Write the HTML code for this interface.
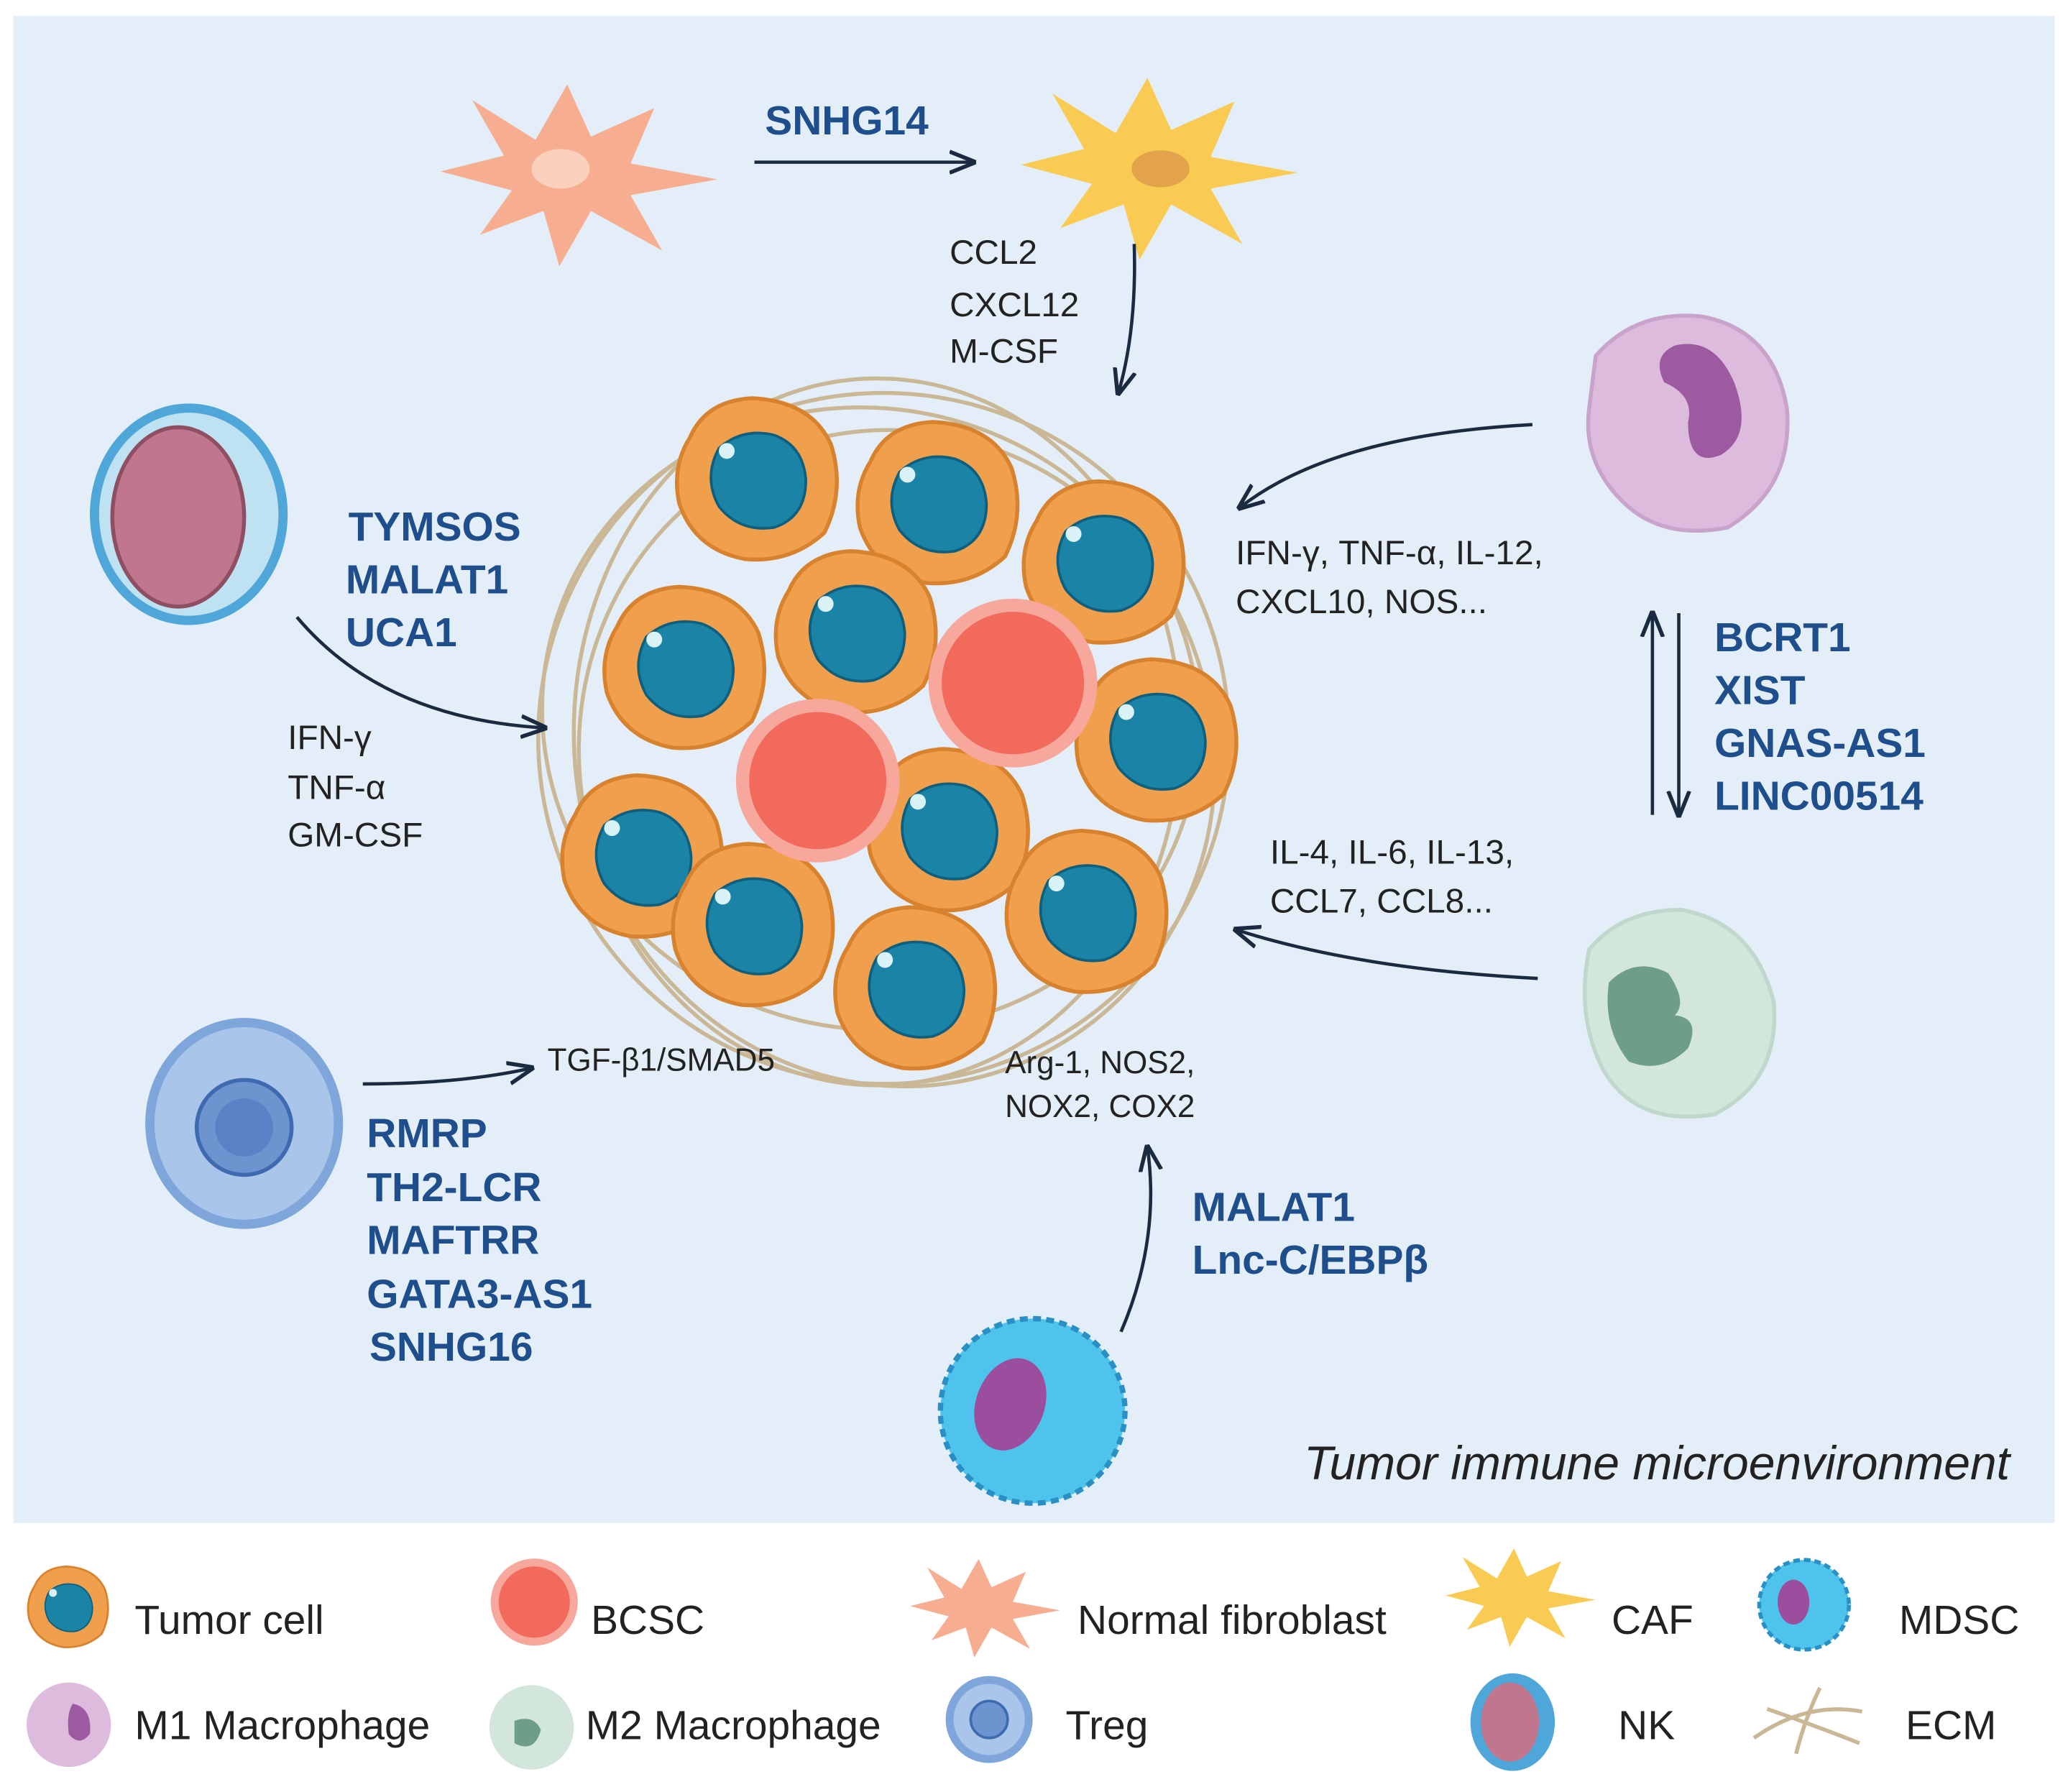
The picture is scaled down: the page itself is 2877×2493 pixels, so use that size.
<!DOCTYPE html>
<html><head><meta charset="utf-8"><style>
html,body{margin:0;padding:0;background:#fff}
svg{display:block}
text{font-family:"Liberation Sans",Arial,sans-serif}
.b{font-weight:bold;fill:#1F4E8C;font-size:31px}
.k{fill:#222;font-size:26px}
.l{fill:#222;font-size:31px}
</style></head><body>
<svg width="2877" height="2493" viewBox="0 0 1568 1359" xmlns="http://www.w3.org/2000/svg">
<defs>
<marker id="ar" viewBox="0 0 10 10" refX="9" refY="5" markerWidth="8" markerHeight="8" orient="auto-start-reverse"><path d="M0,1 L10,5 L0,9" fill="none" stroke="#1a2a40" stroke-width="1.5"/></marker>
<g id="tc"><path d="M-52,-30 Q-40,-58 -5,-60 Q40,-58 55,-25 Q66,10 50,42 Q25,65 -10,62 Q-48,55 -60,20 Q-66,-8 -52,-30Z" fill="#F0A04C" stroke="#D9822E" stroke-width="3"/><path d="M-30,-22 Q-12,-38 12,-32 Q34,-24 36,2 Q36,30 12,38 Q-14,42 -30,22 Q-42,0 -30,-22Z" fill="#1A83A6" stroke="#0E5F7E" stroke-width="2"/><circle cx="-24" cy="-20" r="6" fill="#D9F2F7"/></g>
<g id="fib"><path d="M-80,0 L-40,-10 L-60,-45 L-20,-20 L0,-55 L15,-22 L55,-40 L40,-5 L95,5 L40,15 L60,50 L15,25 L-5,60 L-15,25 L-55,40 L-35,12Z" /></g>
</defs>
<rect width="1568" height="1359" fill="#fff"/>
<rect x="10" y="12" width="1548" height="1143" fill="#E3EEF8"/>

<g fill="none" stroke="#C9B796" stroke-width="3">
<ellipse cx="670" cy="560" rx="262" ry="262"/>
<ellipse cx="660" cy="545" rx="250" ry="235" transform="rotate(15 660 545)"/>
<ellipse cx="680" cy="575" rx="240" ry="250" transform="rotate(-20 680 575)"/>
<ellipse cx="665" cy="555" rx="230" ry="268"/>
</g>
<use href="#tc" x="575" y="362"/>
<use href="#tc" x="712" y="380"/>
<use href="#tc" x="838" y="425"/>
<use href="#tc" x="520" y="505"/>
<use href="#tc" x="650" y="478"/>
<use href="#tc" x="878" y="560"/>
<use href="#tc" x="488" y="648"/>
<use href="#tc" x="572" y="700"/>
<use href="#tc" x="720" y="628"/>
<use href="#tc" x="695" y="748"/>
<use href="#tc" x="825" y="690"/>
<circle cx="620" cy="592" r="62" fill="#F7A79C"/><circle cx="620" cy="592" r="52" fill="#F26A5C"/>
<circle cx="768" cy="518" r="64" fill="#F7A79C"/><circle cx="768" cy="518" r="54" fill="#F26A5C"/>

<use href="#fib" x="430" y="130" fill="#F7AE90" transform="translate(430 130) scale(1.2) translate(-430 -130)"/>
<ellipse cx="425" cy="128" rx="22" ry="15" fill="#FBD0BC"/>
<use href="#fib" x="870" y="125" fill="#F9CB52" transform="translate(870 125) scale(1.2) translate(-870 -125)"/>
<ellipse cx="880" cy="128" rx="22" ry="14" fill="#E3A24C"/>

<path d="M1210,270 Q1240,235 1290,240 Q1345,250 1355,310 Q1360,370 1310,400 Q1260,410 1230,380 Q1200,350 1205,310Z" fill="#DDBBDD" stroke="#C9A3CB" stroke-width="3"/>
<path d="M1270,262 Q1300,255 1315,290 Q1330,330 1305,345 Q1280,355 1280,320 Q1285,300 1262,290 Q1252,270 1270,262Z" fill="#9C5BA0"/>
<path d="M1205,720 Q1230,690 1275,690 Q1330,700 1345,760 Q1350,820 1300,845 Q1240,855 1215,810 Q1195,770 1205,720Z" fill="#D3E6DC" stroke="#C0D8CB" stroke-width="3"/>
<path d="M1220,745 Q1240,725 1265,738 Q1280,760 1270,770 Q1290,772 1280,795 Q1260,815 1235,805 Q1215,780 1220,745Z" fill="#6E9E8A"/>
<ellipse cx="143" cy="390" rx="75" ry="84" fill="#4FA7D9"/><ellipse cx="143" cy="390" rx="68" ry="77" fill="#BFE2F3"/>
<ellipse cx="135" cy="392" rx="50" ry="68" fill="#C0768C" stroke="#8E4F62" stroke-width="3"/>
<ellipse cx="185" cy="852" rx="75" ry="80" fill="#7FA6DA"/><ellipse cx="185" cy="852" rx="68" ry="73" fill="#A9C5EA"/>
<circle cx="185" cy="855" r="36" fill="#6E94D0" stroke="#3E6AB0" stroke-width="3"/><circle cx="185" cy="855" r="22" fill="#5B82C6"/>
<circle cx="783" cy="1070" r="70" fill="#4EC3EC" stroke="#2A8FC4" stroke-width="4" stroke-dasharray="6 4"/>
<ellipse cx="766" cy="1065" rx="26" ry="36" fill="#9C4E9E" transform="rotate(20 766 1065)"/>

<g fill="none" stroke="#1a2a40" stroke-width="2.5" marker-end="url(#ar)">
<path d="M572,123 L738,123"/>
<path d="M860,185 Q862,250 848,298"/>
<path d="M1162,322 Q1010,330 940,385"/>
<path d="M1253,618 L1253,465"/>
<path d="M1273,465 L1273,618"/>
<path d="M1166,742 Q1030,735 937,705"/>
<path d="M225,468 Q290,545 413,552"/>
<path d="M275,822 Q350,822 403,810"/>
<path d="M850,1010 Q880,940 870,870"/>
</g>

<text class="b" x="580" y="102">SNHG14</text>
<text class="k" x="720" y="200">CCL2</text>
<text class="k" x="720" y="240">CXCL12</text>
<text class="k" x="720" y="275">M-CSF</text>
<text class="b" x="264" y="410">TYMSOS</text>
<text class="b" x="262" y="450">MALAT1</text>
<text class="b" x="262" y="490">UCA1</text>
<text class="k" x="218" y="568">IFN-γ</text>
<text class="k" x="218" y="606">TNF-α</text>
<text class="k" x="218" y="642">GM-CSF</text>
<text class="k" x="937" y="428">IFN-γ, TNF-α, IL-12,</text>
<text class="k" x="937" y="465">CXCL10, NOS...</text>
<text class="b" x="1300" y="494">BCRT1</text>
<text class="b" x="1300" y="534">XIST</text>
<text class="b" x="1300" y="574">GNAS-AS1</text>
<text class="b" x="1300" y="614">LINC00514</text>
<text class="k" x="963" y="655">IL-4, IL-6, IL-13,</text>
<text class="k" x="963" y="692">CCL7, CCL8...</text>
<text class="k" x="415" y="812" style="font-size:24px">TGF-β1/SMAD5</text>
<text class="k" x="762" y="814" style="font-size:24px">Arg-1,  NOS2,</text>
<text class="k" x="762" y="847" style="font-size:24px">NOX2,  COX2</text>
<text class="b" x="278" y="870">RMRP</text>
<text class="b" x="278" y="911">TH2-LCR</text>
<text class="b" x="278" y="951">MAFTRR</text>
<text class="b" x="278" y="992">GATA3-AS1</text>
<text class="b" x="280" y="1032">SNHG16</text>
<text class="b" x="904" y="926">MALAT1</text>
<text class="b" x="904" y="966">Lnc-C/EBPβ</text>
<text x="1524" y="1122" text-anchor="end" style="font-size:36px;font-style:italic;fill:#222">Tumor immune microenvironment</text>

<use href="#tc" transform="translate(52 1218) scale(0.5)"/>
<text class="l" x="102" y="1239">Tumor  cell</text>
<circle cx="405" cy="1215" r="33" fill="#F7A79C"/><circle cx="405" cy="1215" r="27" fill="#F26A5C"/>
<text class="l" x="448" y="1239">BCSC</text>
<g transform="translate(742 1218) scale(0.65) translate(-742 -1218)"><use href="#fib" x="742" y="1218" fill="#F7AE90"/></g>
<text class="l" x="817" y="1239">Normal fibroblast</text>
<g transform="translate(1148 1210) scale(0.65) translate(-1148 -1210)"><use href="#fib" x="1148" y="1210" fill="#F9CB52"/></g>
<text class="l" x="1222" y="1239">CAF</text>
<circle cx="1368" cy="1217" r="34" fill="#4EC3EC" stroke="#2A8FC4" stroke-width="3" stroke-dasharray="5 3"/>
<ellipse cx="1360" cy="1215" rx="12" ry="17" fill="#9C4E9E"/>
<text class="l" x="1440" y="1239">MDSC</text>
<circle cx="52" cy="1308" r="32" fill="#DDBBDD"/><path d="M55,1292 Q70,1295 68,1315 Q60,1325 52,1315 Q50,1300 55,1292Z" fill="#9C5BA0"/>
<text class="l" x="102" y="1319">M1 Macrophage</text>
<circle cx="403" cy="1310" r="32" fill="#D3E6DC"/><path d="M390,1305 Q405,1300 410,1312 Q405,1330 390,1322Z" fill="#6E9E8A"/>
<text class="l" x="444" y="1319">M2 Macrophage</text>
<circle cx="750" cy="1304" r="33" fill="#7FA6DA"/><circle cx="750" cy="1304" r="27" fill="#A9C5EA"/><circle cx="750" cy="1304" r="14" fill="#6E94D0" stroke="#3E6AB0" stroke-width="2"/>
<text class="l" x="808" y="1319">Treg</text>
<ellipse cx="1147" cy="1306" rx="32" ry="37" fill="#4FA7D9"/><ellipse cx="1145" cy="1306" rx="22" ry="30" fill="#C0768C"/>
<text class="l" x="1227" y="1319">NK</text>
<g fill="none" stroke="#C9B796" stroke-width="3"><path d="M1330,1318 Q1370,1290 1412,1298"/><path d="M1340,1296 Q1380,1310 1410,1322"/><path d="M1380,1280 Q1368,1305 1362,1330"/></g>
<text class="l" x="1445" y="1319">ECM</text>
</svg>
</body></html>
